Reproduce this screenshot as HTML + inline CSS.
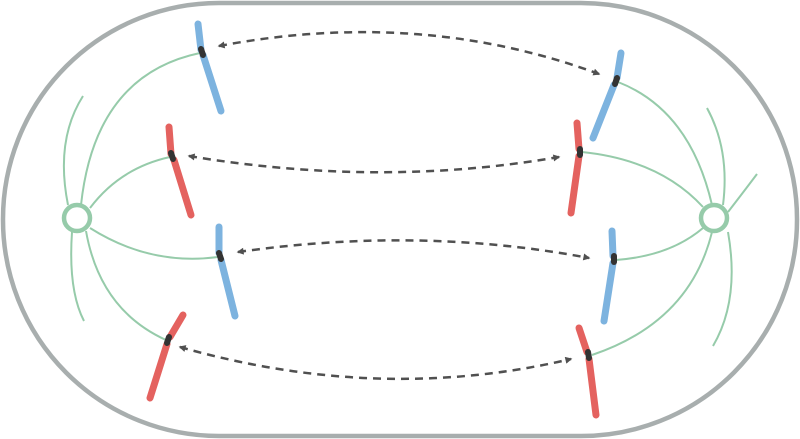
<!DOCTYPE html>
<html><head><meta charset="utf-8"><style>html,body{margin:0;padding:0;background:#fff}svg{display:block}</style></head>
<body>
<svg width="800" height="439" viewBox="0 0 800 439" xmlns="http://www.w3.org/2000/svg">
<defs>
<marker id="ah" viewBox="0 0 10 10" refX="8" refY="5" markerWidth="8" markerHeight="7" orient="auto-start-reverse" markerUnits="userSpaceOnUse">
<path d="M0,0 L10,5 L0,10 z" fill="#505050"/>
</marker>
</defs>
<rect x="3" y="3" width="794" height="433" rx="216" ry="216" fill="#fff" stroke="#a8aeae" stroke-width="4.5"/>
<g fill="none" stroke="#96cbaa" stroke-width="2">
<path d="M81,205 Q95,75 200,53"/>
<path d="M90,208 Q120,168 170,157"/>
<path d="M90,228 Q150,266 218,257"/>
<path d="M86,231 Q100,310 166,340"/>
<path d="M68,205 Q55,140 83,96"/>
<path d="M72,232 Q68,290 84,321"/>
<path d="M712,205 Q690,110 618,82"/>
<path d="M703,207 Q660,160 582,152"/>
<path d="M703,228 Q670,256 616,260"/>
<path d="M712,232 Q690,322 592,355"/>
<path d="M723,205 Q730,150 707,108"/>
<path d="M728,212 Q745,190 757,174"/>
<path d="M728,232 Q740,300 713,346"/>
</g>
<g fill="none" stroke="#96cbaa" stroke-width="4.5">
<circle cx="77" cy="218" r="13"/>
<circle cx="714" cy="218" r="13"/>
</g>
<g fill="none" stroke-linecap="round" stroke-width="7">
<path d="M198,24 L201,50" stroke="#7db3df"/><path d="M203,55 L221,111" stroke="#7db3df"/>
<path d="M169,127 L171,154" stroke="#e4625f"/><path d="M174,160 L191,215" stroke="#e4625f"/>
<path d="M219,227 L219,253" stroke="#7db3df"/><path d="M221,260 L235,316" stroke="#7db3df"/>
<path d="M183,315 L170,337" stroke="#e4625f"/><path d="M167,344 L150,398" stroke="#e4625f"/>
<path d="M621,53 L617,78" stroke="#7db3df"/><path d="M614,85 L593,138" stroke="#7db3df"/>
<path d="M577,123 L579,149" stroke="#e4625f"/><path d="M579,156 L571,213" stroke="#e4625f"/>
<path d="M612,231 L613,256" stroke="#7db3df"/><path d="M613,263 L604,321" stroke="#7db3df"/>
<path d="M579,328 L587,352" stroke="#e4625f"/><path d="M589,359 L596,415" stroke="#e4625f"/>
</g>
<g fill="none" stroke="#333" stroke-width="6" stroke-linecap="round">
<path d="M201,49 L203,55"/>
<path d="M171,153 L173,159"/>
<path d="M219,253 L221,259"/>
<path d="M169,337 L167,343"/>
<path d="M617,78 L615,84"/>
<path d="M580,149 L580,155"/>
<path d="M614,256 L614,262"/>
<path d="M588,352 L589,358"/>
</g>
<g fill="none" stroke="#505050" stroke-width="2.5" stroke-dasharray="8,6" marker-start="url(#ah)" marker-end="url(#ah)">
<path d="M219,46 Q420,8 599,74"/>
<path d="M189,156 Q380,188 559,157"/>
<path d="M238,252 Q420,226 589,258"/>
<path d="M180,347 Q380,404 571,359"/>
</g>
</svg>
</body></html>
